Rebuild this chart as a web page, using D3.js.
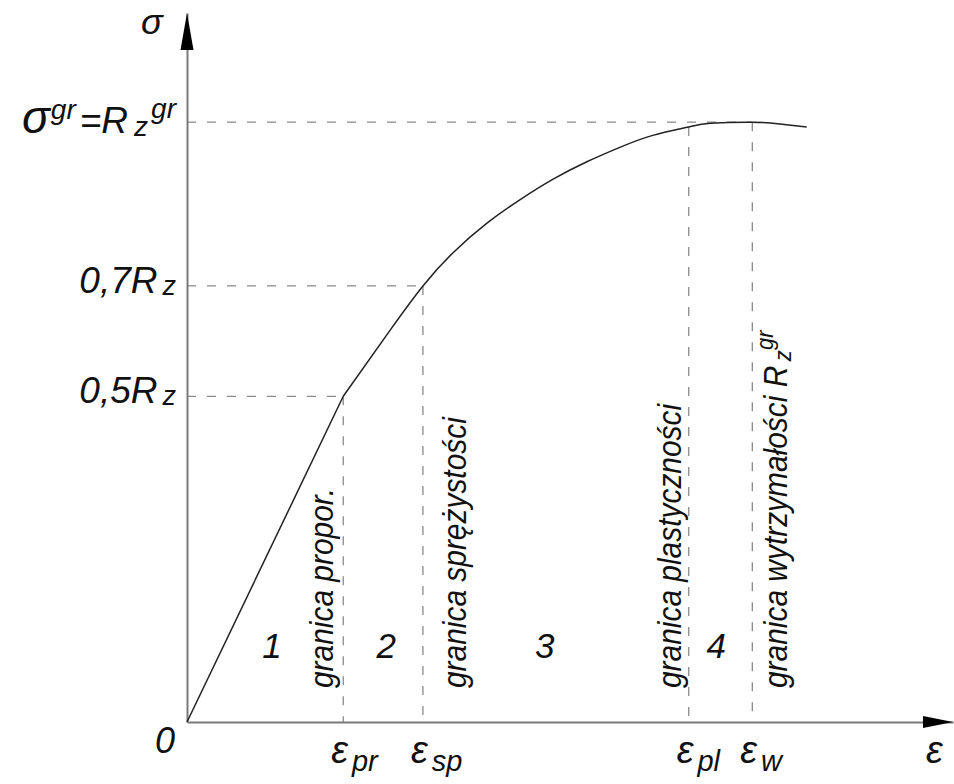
<!DOCTYPE html>
<html>
<head>
<meta charset="utf-8">
<script src="https://cdn.jsdelivr.net/npm/d3@7"></script>
<style>
  body { margin: 0; background: #fff; }
  text { font-family: "Liberation Sans", Arial, sans-serif; font-style: italic; fill: #111; }
</style>
</head>
<body>
<div id="chart"></div>
<script>
// strain / stress in relative units (stress: sigma_gr = 100)
const curveStrain = [20.4, 26.5, 30.8, 34.7, 39.2, 43.5, 47.8, 52.2, 56.5, 60.8, 65.5, 68.3, 73.8, 77.4, 80.9];
const curveStress = [54.3, 65.3, 72.7, 78.2, 83.2, 87.1, 90.5, 93.4, 95.8, 97.8, 99.2, 99.8, 100, 99.7, 99.2];
const linearStrain = [0, 20.4];
const linearStress = [0, 54.3];

const limitKeys = ["pr", "sp", "pl", "w"];
const limitStrain = [20.4, 30.8, 65.5, 73.8];
const limitStress = [54.3, 72.7, 99.2, 100];
const limitNames = ["granica propor.", "granica sprężystości", "granica plastyczności", "granica wytrzymałości R"];

const stressTicks = [54.3, 72.7, 100];
const stressTickLabels = [["0,5R", "z"], ["0,7R", "z"], ["σ", "gr", "=R", "z", "gr"]];

const zoneNames = ["1", "2", "3", "4"];
const zoneStrain = [11.1, 26.0, 46.7, 69.1];

const width = 954;
const height = 784;

const x = d3.scaleLinear().domain([0, 100]).range([187, 953]);
const y = d3.scaleLinear().domain([0, 118.2]).range([722, 13]);

const svg = d3.select("#chart").append("svg")
    .attr("width", width)
    .attr("height", height);

const axisColor = "#7a7a7a";
const dashColor = "#8a8a8a";

// dashed helper lines
limitStrain.forEach((s, i) => {
  svg.append("line")
    .attr("x1", x(s)).attr("x2", x(s))
    .attr("y1", y(limitStress[i])).attr("y2", y(0))
    .attr("stroke", dashColor).attr("stroke-width", 1.3)
    .attr("stroke-dasharray", "9,11");
});
const hEnds = [20.4, 30.8, 73.8];
stressTicks.forEach((v, i) => {
  svg.append("line")
    .attr("x1", x(0)).attr("x2", x(hEnds[i]))
    .attr("y1", y(v)).attr("y2", y(v))
    .attr("stroke", dashColor).attr("stroke-width", 1.3)
    .attr("stroke-dasharray", "9,11");
});

// axes
const xAxis = svg.append("g")
    .attr("transform", "translate(0," + y(0) + ")")
    .call(d3.axisBottom(x).tickValues(limitStrain).tickSize(0).tickSizeOuter(0).tickFormat(""));
const yAxis = svg.append("g")
    .attr("transform", "translate(" + x(0) + ",0)")
    .call(d3.axisLeft(y).tickValues(stressTicks).tickSize(0).tickSizeOuter(0).tickFormat(""));
[xAxis, yAxis].forEach(a => a.select(".domain").attr("stroke", axisColor).attr("stroke-width", 2));

// arrow heads
svg.append("path")
  .attr("d", "M" + x(0) + "," + y(118.2) + "L" + (x(0) - 6.5) + "," + (y(118.2) + 37) + "L" + (x(0) + 6.5) + "," + (y(118.2) + 37) + "Z")
  .attr("fill", "#000");
svg.append("path")
  .attr("d", "M" + x(100) + "," + y(0) + "L" + (x(100) - 30) + "," + (y(0) - 6) + "L" + (x(100) - 30) + "," + (y(0) + 6) + "Z")
  .attr("fill", "#000");

// curve
svg.append("path")
  .datum(linearStrain.map((s, i) => [s, linearStress[i]]))
  .attr("d", d3.line().x(d => x(d[0])).y(d => y(d[1])))
  .attr("fill", "none").attr("stroke", "#222").attr("stroke-width", 1.5);
svg.append("path")
  .datum(curveStrain.map((s, i) => [s, curveStress[i]]))
  .attr("d", d3.line().x(d => x(d[0])).y(d => y(d[1])).curve(d3.curveNatural))
  .attr("fill", "none").attr("stroke", "#222").attr("stroke-width", 1.5);

// y tick labels
stressTicks.forEach((v, i) => {
  const parts = stressTickLabels[i];
  const t = svg.append("text")
    .attr("x", 176).attr("y", y(v) + (i === 2 ? 11 : 7))
    .attr("text-anchor", "end")
    .style("font-size", "37px");
  if (i < 2) {
    t.append("tspan").text(parts[0]);
    t.append("tspan").attr("dx", 5).attr("dy", 2).style("font-size", "27px").text(parts[1]);
  } else {
    t.append("tspan").style("font-size", "46px").text(parts[0]);
    t.append("tspan").attr("dx", 1).attr("dy", -14).style("font-size", "28px").text(parts[1]);
    t.append("tspan").attr("dx", 4).attr("dy", 14).text(parts[2]);
    t.append("tspan").attr("dx", 6).attr("dy", 3).style("font-size", "28px").text(parts[3]);
    t.append("tspan").attr("dx", 3).attr("dy", -18).style("font-size", "28px").text(parts[4]);
  }
});

// x tick labels
limitStrain.forEach((s, i) => {
  const t = svg.append("text")
    .attr("x", x(s) - 12).attr("y", 763)
    .style("font-size", "38px");
  t.append("tspan").text("ε");
  t.append("tspan").attr("dx", 4).attr("dy", 8).style("font-size", "29px").text(limitKeys[i]);
});

// axis names and origin
svg.append("text").attr("x", 141).attr("y", 34).style("font-size", "36px").text("σ");
svg.append("text").attr("x", 926).attr("y", 763).style("font-size", "38px").text("ε");
svg.append("text").attr("x", 155).attr("y", 753).style("font-size", "36px").text("0");

// zone numbers
zoneNames.forEach((n, i) => {
  svg.append("text")
    .attr("x", x(zoneStrain[i])).attr("y", 658)
    .attr("text-anchor", "middle")
    .style("font-size", "35px")
    .text(n);
});

// rotated limit names
const nameOffsets = [-10, 43, -8, 35];
limitNames.forEach((n, i) => {
  const t = svg.append("text")
    .attr("transform", "translate(" + (x(limitStrain[i]) + nameOffsets[i]) + ",688)rotate(-90)scale(0.92,1)")
    .style("font-size", "32.5px");
  t.append("tspan").text(n);
  if (i === 3) {
    t.append("tspan").attr("dx", 5).attr("dy", 4).style("font-size", "24px").text("z");
    t.append("tspan").attr("dy", -18).style("font-size", "24px").text("gr");
  }
});
</script>
</body>
</html>
